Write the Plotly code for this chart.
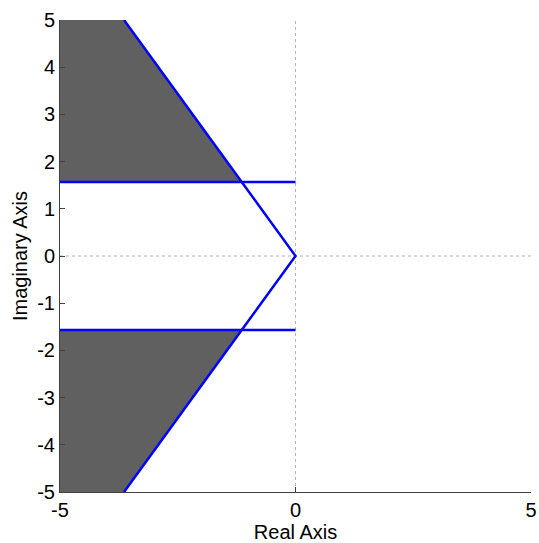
import plotly.graph_objects as go

# Data
ray_x_end = -3.64      # real part where damping ray meets Im = ±5
ray_y_end = 5.0
wd_limit = 1.57        # horizontal lines at Im = ±1.57
x_range = [-5, 5]
y_range = [-5, 5]
x_ticks = [-5, 0, 5]
x_ticklabels = ["-5", "0", "5"]
y_ticks = [-5, -4, -3, -2, -1, 0, 1, 2, 3, 4, 5]
y_ticklabels = ["-5", "-4", "-3", "-2", "-1", "0", "1", "2", "3", "4", "5"]

x_int = ray_x_end * wd_limit / ray_y_end  # intersection of ray with horizontal line

fill_color = "#606060"
line_color = "#0000ff"

fig = go.Figure()

# Shaded regions
fig.add_trace(go.Scatter(
    x=[x_range[0], ray_x_end, x_int, x_range[0], x_range[0]],
    y=[ray_y_end, ray_y_end, wd_limit, wd_limit, ray_y_end],
    fill="toself", fillcolor=fill_color, mode="lines",
    line=dict(color=fill_color, width=0.5), hoverinfo="skip", showlegend=False))
fig.add_trace(go.Scatter(
    x=[x_range[0], ray_x_end, x_int, x_range[0], x_range[0]],
    y=[-ray_y_end, -ray_y_end, -wd_limit, -wd_limit, -ray_y_end],
    fill="toself", fillcolor=fill_color, mode="lines",
    line=dict(color=fill_color, width=0.5), hoverinfo="skip", showlegend=False))

# Dotted zero lines
fig.add_trace(go.Scatter(x=[0, 0], y=y_range, mode="lines",
                         line=dict(color="#b4b4b4", width=1, dash="dot"),
                         hoverinfo="skip", showlegend=False))
fig.add_trace(go.Scatter(x=x_range, y=[0, 0], mode="lines",
                         line=dict(color="#b4b4b4", width=1, dash="dot"),
                         hoverinfo="skip", showlegend=False))

# Damping ray
fig.add_trace(go.Scatter(x=[ray_x_end, 0, ray_x_end], y=[ray_y_end, 0, -ray_y_end],
                         mode="lines", line=dict(color=line_color, width=2.5),
                         showlegend=False))
# Horizontal limits
fig.add_trace(go.Scatter(x=[x_range[0], 0], y=[wd_limit, wd_limit],
                         mode="lines", line=dict(color=line_color, width=2.5),
                         showlegend=False))
fig.add_trace(go.Scatter(x=[x_range[0], 0], y=[-wd_limit, -wd_limit],
                         mode="lines", line=dict(color=line_color, width=2.5),
                         showlegend=False))

font = dict(family="Liberation Sans", size=20, color="black")

fig.update_layout(
    width=539, height=543,
    margin=dict(l=60, r=8, t=20, b=51),
    paper_bgcolor="white", plot_bgcolor="white",
    font=font,
    xaxis=dict(range=x_range, tickvals=x_ticks, ticktext=x_ticklabels,
               showgrid=False, zeroline=False, automargin=False,
               showline=True, linecolor="#404040", linewidth=1,
               ticks="inside", ticklen=5, tickcolor="#404040",
               title=dict(text="Real Axis", standoff=0, font=font),
               tickfont=font),
    yaxis=dict(range=y_range, tickvals=y_ticks, ticktext=y_ticklabels,
               showgrid=False, zeroline=False, automargin=False,
               showline=True, linecolor="#404040", linewidth=1,
               ticks="inside", ticklen=5, tickcolor="#404040",
               title=dict(text="Imaginary Axis", standoff=4, font=font),
               tickfont=font),
)

fig.write_html(
    "out.html",
    config={"displayModeBar": False},
    post_script="document.body.style.margin='0px';document.body.style.overflow='hidden';",
)
